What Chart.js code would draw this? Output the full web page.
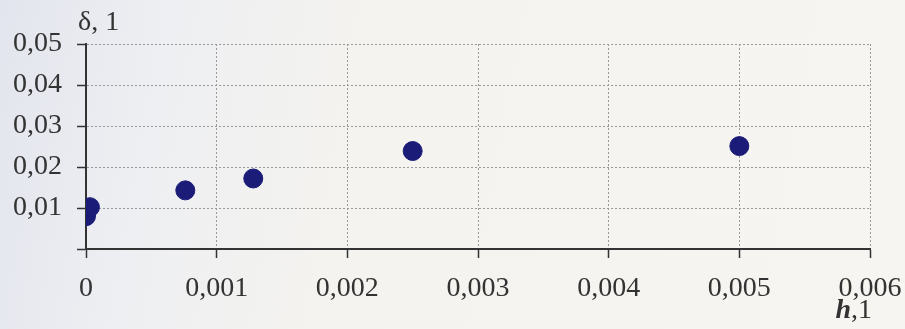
<!DOCTYPE html>
<html>
<head>
<meta charset="utf-8">
<script src="https://cdn.jsdelivr.net/npm/chart.js@4/dist/chart.umd.min.js"></script>
<style>
  html, body { margin: 0; padding: 0; }
  body {
    width: 905px; height: 329px; overflow: hidden;
    background: linear-gradient(100deg, #e3e5ee 0%, #eeeff2 18%, #f4f3ef 40%, #f6f5f1 100%);
  }
  #wrap { width: 905px; height: 329px; position: relative; }
</style>
</head>
<body>
<div id="wrap"><canvas id="scatter_chart"></canvas></div>
<script>
// データ
const hValues = [0.0000, 0.00003, 0.00076, 0.00128, 0.0025, 0.0050];
const deltaValues = [0.0080, 0.0102, 0.0143, 0.0172, 0.0239, 0.0251];
const xTickLabels = ['0', '0,001', '0,002', '0,003', '0,004', '0,005', '0,006'];
const yTickLabels = ['', '0,01', '0,02', '0,03', '0,04', '0,05'];

const points = hValues.map((h, i) => ({ x: h, y: deltaValues[i] }));

const textColor = '#333';
const axisColor = '#333';
const gridColor = '#999';
const font = { family: '"Liberation Serif", "DejaVu Serif", serif', size: 28 };

// 軸タイトル（δ, 1 と h,1）
const axisTitles = {
  id: 'axisTitles',
  afterDraw(chart) {
    const ctx = chart.ctx;
    ctx.save();
    ctx.fillStyle = textColor;
    ctx.textBaseline = 'middle';
    ctx.font = '28px "Liberation Serif", serif';
    ctx.textAlign = 'left';
    ctx.fillText('δ, 1', 78, 23);
    // h,1
    ctx.textAlign = 'right';
    const y = 311;
    const right = chart.chartArea.right + 2;
    const oneW = ctx.measureText(',1').width;
    ctx.fillText(',1', right, y);
    ctx.font = 'italic bold 28px "Liberation Serif", serif';
    ctx.fillText('h', right - oneW, y);
    ctx.restore();
  }
};

new Chart(document.getElementById('scatter_chart'), {
  type: 'scatter',
  data: {
    datasets: [{
      data: points,
      backgroundColor: '#1b1b78',
      borderColor: '#1b1b78',
      pointRadius: 9.5,
      pointHoverRadius: 9.5,
    }]
  },
  plugins: [axisTitles],
  options: {
    responsive: true,
    maintainAspectRatio: false,
    animation: false,
    layout: { padding: { top: 44, right: 35, left: 0, bottom: 0 } },
    plugins: {
      legend: { display: false },
      tooltip: { enabled: false },
    },
    scales: {
      x: {
        type: 'linear',
        min: 0,
        max: 0.006,
        afterFit: (scale) => {
          scale.height = 80;
          scale.paddingLeft = 0;
          scale.paddingRight = 0;
        },
        afterBuildTicks: (scale) => {
          scale.ticks = xTickLabels.map((_, i) => ({ value: i * 0.001 }));
        },
        ticks: {
          color: textColor,
          font: font,
          padding: 14,
          maxRotation: 0,
          autoSkip: false,
          callback: (value, index) => xTickLabels[index],
        },
        grid: {
          color: gridColor,
          lineWidth: 1,
          tickColor: axisColor,
          tickLength: 9,
          tickWidth: 1.5,
        },
        border: { color: axisColor, width: 2, dash: [2, 2] },
      },
      y: {
        type: 'linear',
        min: 0,
        max: 0.05,
        afterFit: (scale) => {
          scale.width = 86;
          scale.paddingTop = 0;
          scale.paddingBottom = 0;
        },
        afterBuildTicks: (scale) => {
          scale.ticks = yTickLabels.map((_, i) => ({ value: i * 0.01 }));
        },
        ticks: {
          color: textColor,
          font: font,
          padding: 15,
          autoSkip: false,
          callback: (value, index) => yTickLabels[index],
        },
        grid: {
          color: gridColor,
          lineWidth: 1,
          tickColor: axisColor,
          tickLength: 9,
          tickWidth: 1.5,
        },
        border: { color: axisColor, width: 2, dash: [2, 2] },
      }
    }
  }
});
</script>
</body>
</html>
